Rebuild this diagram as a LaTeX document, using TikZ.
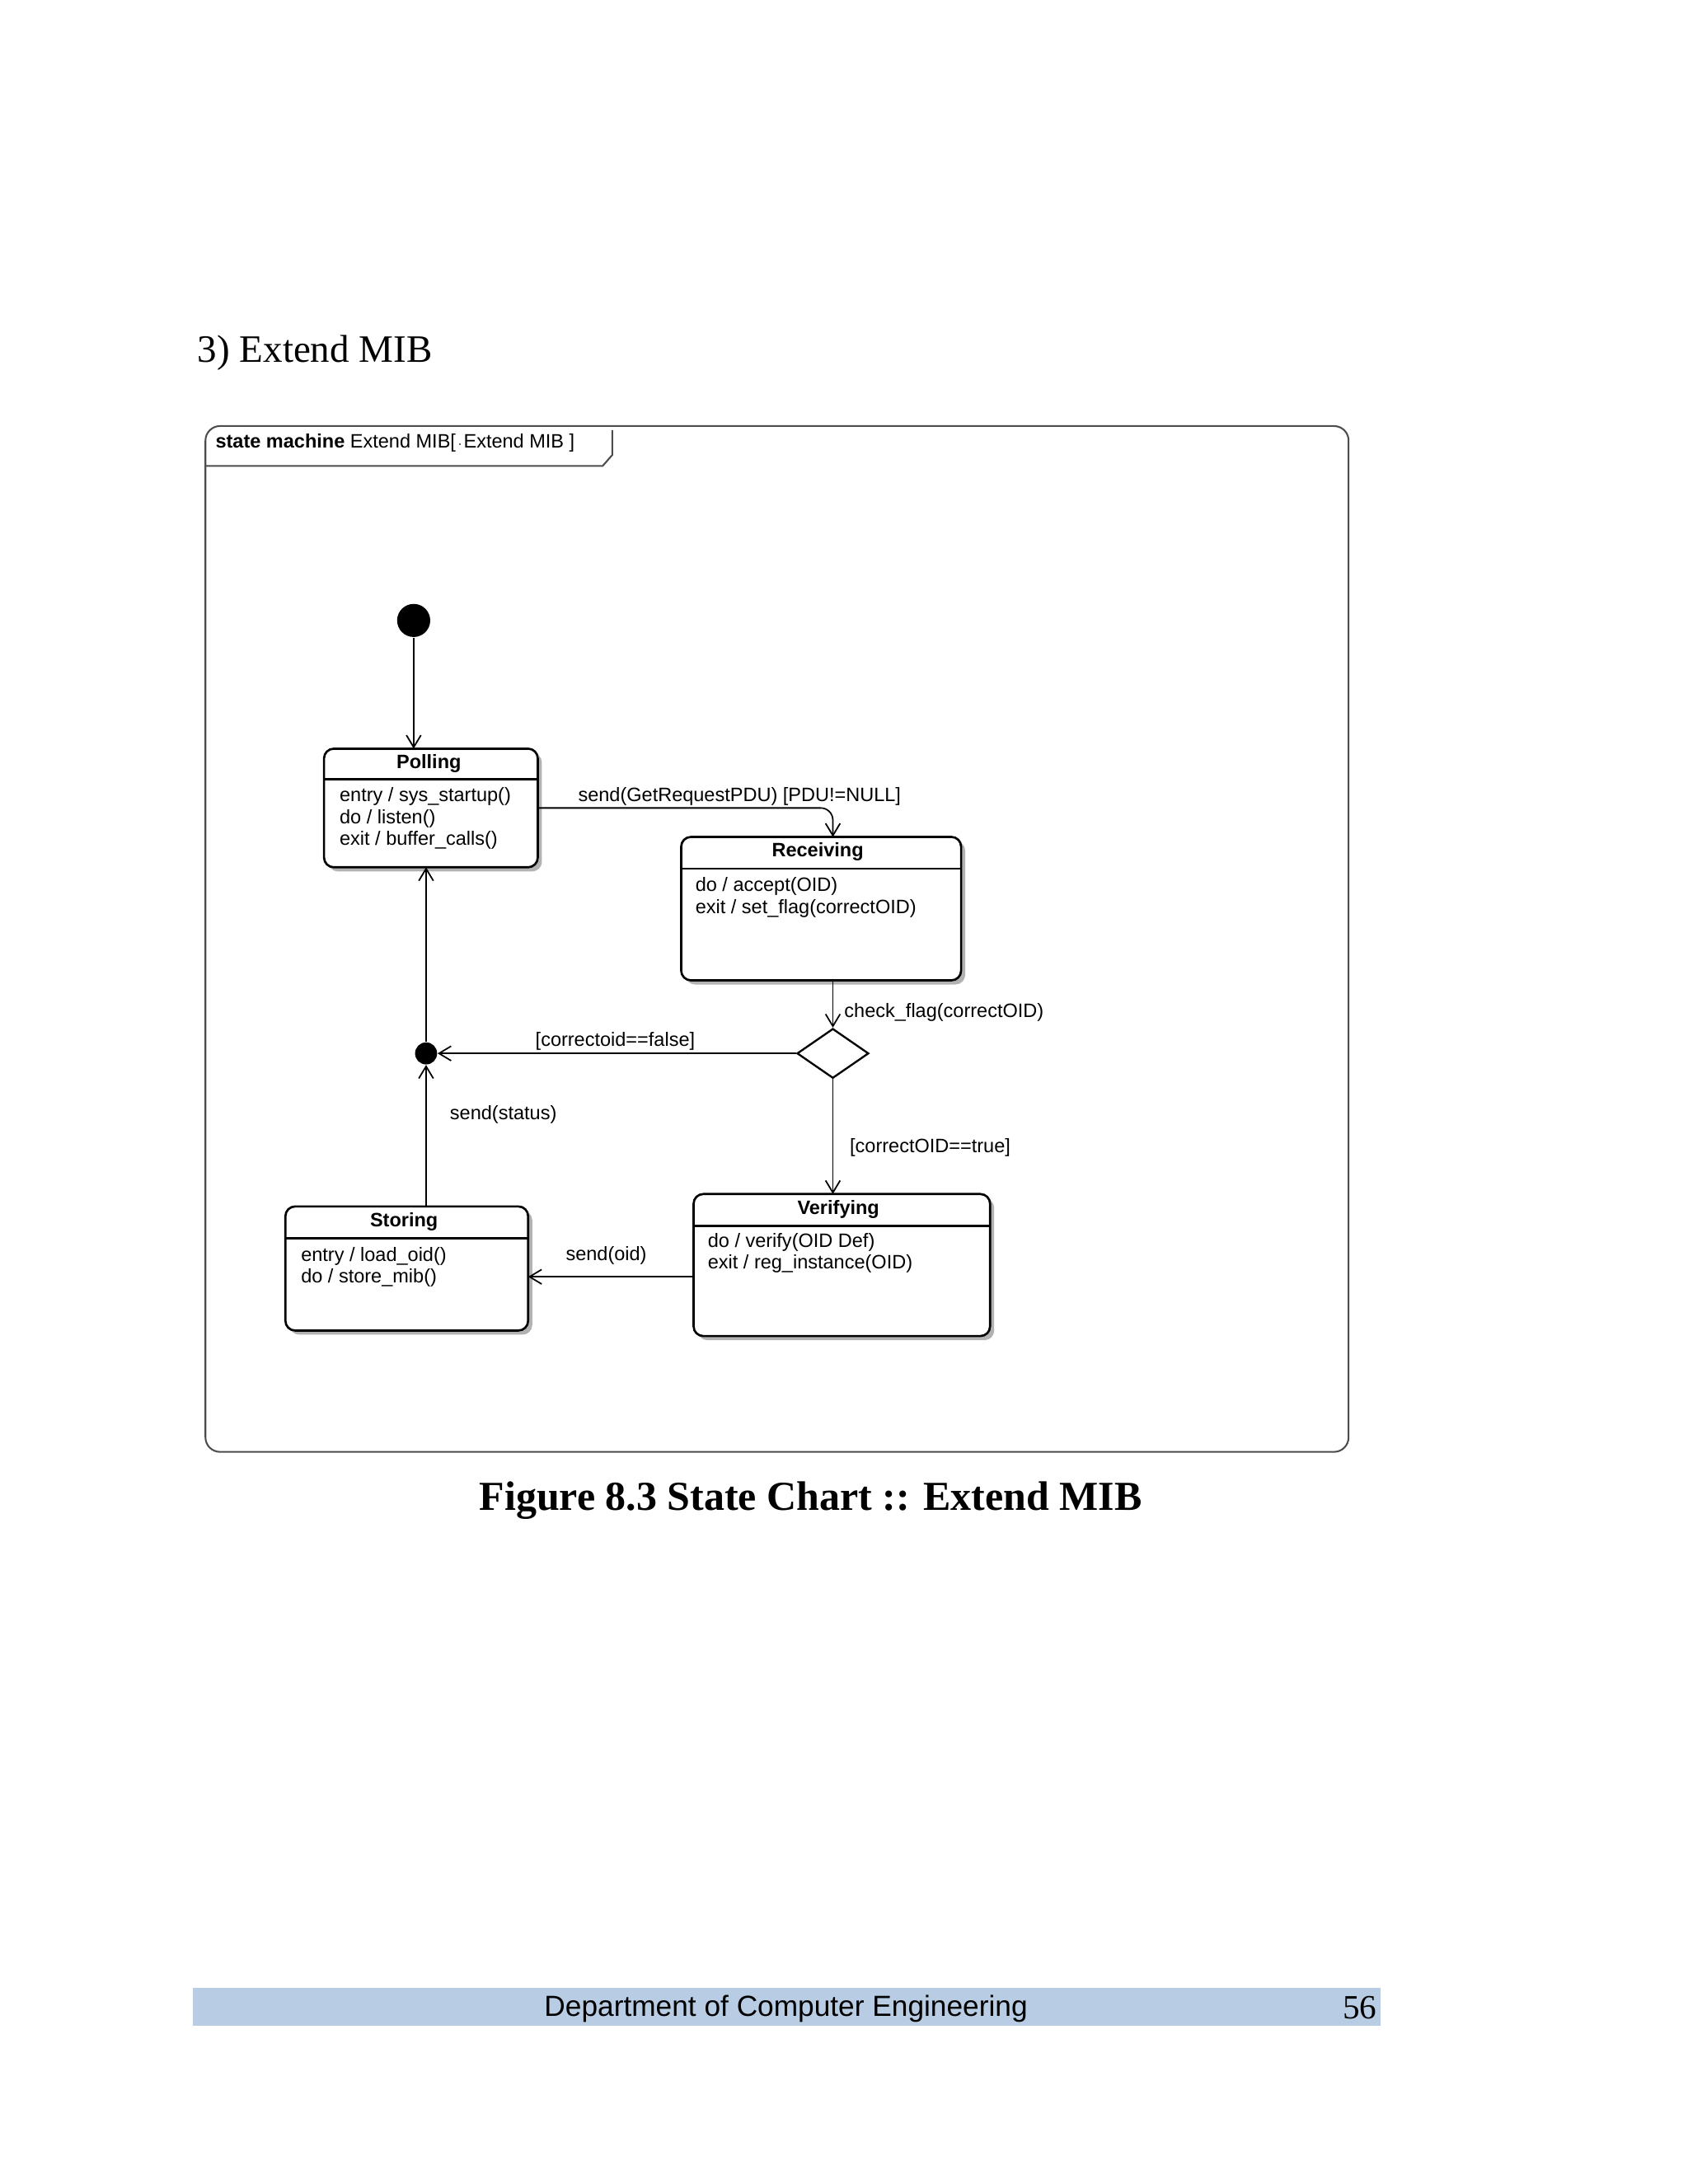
\documentclass[tikz,border=0pt]{standalone}
\usepackage{fontspec}
\setmainfont{Liberation Serif}
\newfontfamily\uml{Liberation Sans}
\usetikzlibrary{arrows.meta,shapes.geometric}
\definecolor{barblue}{HTML}{B8CCE4}
\begin{document}
\begin{tikzpicture}[x=0.02cm,y=-0.02cm,
  st/.style={draw,line width=0.9pt,rounded corners=4pt,fill=white},
  sh/.style={fill=black!30,rounded corners=4pt},
  tr/.style={line width=0.6pt,-{Straight Barb[length=5pt,width=6pt]}},
  lbl/.style={font=\uml\fontsize{8}{9}\selectfont,inner sep=0pt},
  ttl/.style={font=\uml\bfseries\fontsize{8}{9}\selectfont,inner sep=0pt},
  body/.style={font=\uml\fontsize{8}{9}\selectfont,inner sep=0pt,anchor=north west,align=left}]
\useasboundingbox (0,0) rectangle (1224,1584);
% heading
\node[anchor=base west,inner sep=0pt,font=\fontsize{16}{18}\selectfont] (head) at (143,263) {3) Extend MIB};
% frame
\draw[line width=0.7pt,rounded corners=6pt,draw=black!70] (149,309) rectangle (978,1053);
\draw[line width=0.7pt,draw=black!70] (149,338) -- (437,338) -- (444,330) -- (444,312);
\node[anchor=west,inner sep=0pt,font=\uml\fontsize{8}{9}\selectfont] (title) at (156,321) {\textbf{state machine} Extend MIB[\,\tikz[baseline=-0.3ex]\draw[fill=black!25,draw=black!60] (0,0) rectangle (0.34,-0.34);\,Extend MIB ]};
% initial
\node[circle,fill=black,minimum size=24\pgflinewidth,inner sep=0pt,minimum size=0.48cm] (init) at (300,450) {};
% shadows
\fill[sh] (238,546) rectangle (393,632);
\fill[sh] (497,610) rectangle (700,714);
\fill[sh] (506,869) rectangle (721,972);
\fill[sh] (210,878) rectangle (386,968);
% Polling
\draw[st] (235,543) rectangle (390,629);
\draw[line width=0.9pt] (235,565) -- (390,565);
\node[ttl] (pt) at (311,554) {Polling};
\node[body] (pb) at (246,571) {entry / sys\_startup()\\do / listen()\\exit / buffer\_calls()};
\coordinate (pollR) at (390,586);
\coordinate (pollB) at (309,629);
% Receiving
\draw[st] (494,607) rectangle (697,711);
\draw[line width=0.9pt] (494,630) -- (697,630);
\node[ttl] (rt) at (593,618) {Receiving};
\node[body] (rb) at (504,636) {do / accept(OID)\\exit / set\_flag(correctOID)};
\coordinate (recT) at (604,607);
\coordinate (recB) at (604,711);
% Verifying
\draw[st] (503,866) rectangle (718,969);
\draw[line width=0.9pt] (503,889) -- (718,889);
\node[ttl] (vt) at (608,877) {Verifying};
\node[body] (vb) at (513,894) {do / verify(OID Def)\\exit / reg\_instance(OID)};
\coordinate (verT) at (604,866);
\coordinate (verL) at (503,926);
% Storing
\draw[st] (207,875) rectangle (383,965);
\draw[line width=0.9pt] (207,898) -- (383,898);
\node[ttl] (stt) at (293,886) {Storing};
\node[body] (sb) at (218,904) {entry / load\_oid()\\do / store\_mib()};
\coordinate (stoR) at (383,926);
\coordinate (stoT) at (309,875);
% choice and junction
\node[diamond,draw,line width=0.8pt,minimum width=52\pgflinewidth,inner sep=0pt,minimum width=1.04cm,minimum height=0.72cm,aspect=1.44] (ch) at (604,764) {};
\node[circle,fill=black,inner sep=0pt,minimum size=0.32cm] (jn) at (309,764) {};
% transitions
\draw[tr] (init) -- (300,543);
\draw[tr,rounded corners=5pt] (pollR) -- (604,586) -- (recT);
\node[lbl,anchor=base west] (l1) at (419,581) {send(GetRequestPDU) [PDU!=NULL]};
\draw[tr] (recB) -- (ch.north);
\node[lbl,anchor=base west] (l2) at (612,738) {check\_flag(correctOID)};
\draw[tr] (ch.west) -- (jn);
\node[lbl,anchor=base west] (l3) at (388,759) {[correctoid==false]};
\draw[tr] (jn) -- (pollB);
\draw[tr] (ch.south) -- (verT);
\node[lbl,anchor=base west] (l4) at (616,836) {[correctOID==true]};
\draw[tr] (verL) -- (stoR);
\node[lbl,anchor=base west] (l5) at (410,914) {send(oid)};
\draw[tr] (stoT) -- (jn);
\node[lbl,anchor=base west] (l6) at (326,812) {send(status)};
% caption
\node[font=\bfseries\fontsize{17}{20}\selectfont,inner sep=0pt] (cap) at (588,1088) {Figure 8.3 State Chart :: Extend MIB};
% footer
\fill[barblue] (140,1442) rectangle (1001,1469);
\node[font=\uml\fontsize{12}{14}\selectfont,inner sep=0pt] (dept) at (570,1457) {Department of Computer Engineering};
\node[font=\fontsize{14}{16}\selectfont,inner sep=0pt] (pg) at (986,1456) {56};
\end{tikzpicture}
\end{document}
